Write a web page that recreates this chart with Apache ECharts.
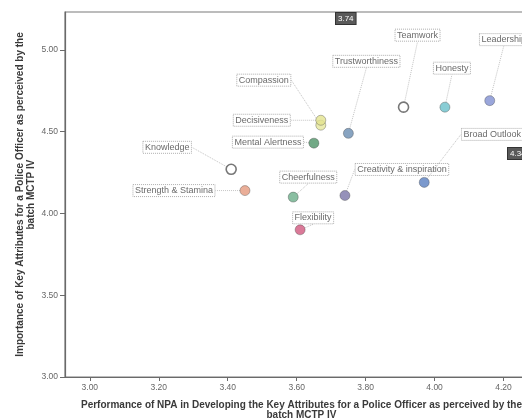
<!DOCTYPE html>
<html>
<head>
<meta charset="utf-8">
<script src="https://cdn.jsdelivr.net/npm/echarts@6/dist/echarts.min.js"></script>
<style>
  html, body { margin: 0; padding: 0; background: #ffffff; }
  #chart { width: 522px; height: 418px; }
</style>
</head>
<body>
<div id="chart"></div>
<script>
// Key attributes of a police officer: NPA performance (x) vs importance (y)
const attributes = [
  'Knowledge', 'Strength & Stamina', 'Compassion', 'Decisiveness',
  'Mental Alertness', 'Trustworthiness', 'Teamwork', 'Honesty',
  'Leadership', 'Broad Outlook', 'Cheerfulness', 'Creativity & inspiration',
  'Flexibility'
];
const performance = [3.41, 3.45, 3.67, 3.67, 3.65, 3.75, 3.91, 4.03, 4.16, 3.97, 3.59, 3.74, 3.61];
const importance  = [4.27, 4.14, 4.54, 4.57, 4.43, 4.49, 4.65, 4.65, 4.69, 4.19, 4.10, 4.11, 3.90];

const xTicks = [3.00, 3.20, 3.40, 3.60, 3.80, 4.00, 4.20];
const yTicks = [3.00, 3.50, 4.00, 4.50, 5.00];

// marker fills, one per attribute
const markerFills = [
  '#ffffff', '#e59a7e', '#e6e79c', '#e3e48e', '#4f9468', '#6a8db2', '#ffffff',
  '#6cc0ca', '#8190d2', '#5a7fc0', '#6cae8a', '#7a76a8', '#d1587e'
];
// label displacement from each marker (px)
const labelShift = [
  [-64, -22], [-71, 0], [-57, -45], [-59, 0], [-46, -1], [18, -72], [14, -72],
  [7, -39], [14, -61], [68, -48], [15, -20], [57, -26], [13, -12]
];

const points = attributes.map((name, i) => ({
  name: name,
  value: [performance[i], importance[i]],
  itemStyle: {
    color: markerFills[i],
    borderColor: markerFills[i] === '#ffffff' ? '#555555' : 'rgba(60,60,60,0.55)',
    borderWidth: markerFills[i] === '#ffffff' ? 1.6 : 0.8
  }
}));

const font = 'Liberation Sans, Arial, sans-serif';
const chart = echarts.init(document.getElementById('chart'), null, { renderer: 'canvas' });

chart.setOption({
  backgroundColor: '#ffffff',
  animation: false,
  grid: {
    left: 65, top: 12, width: 473, height: 365,
    outerBoundsMode: 'none',
    containLabel: false,
    show: true, borderColor: '#7a7a7a', borderWidth: 1.2, backgroundColor: '#ffffff'
  },
  xAxis: {
    type: 'value', min: 2.928, max: 4.30,
    name: 'Performance of NPA in Developing the Key Attributes for a Police Officer as perceived by the\nbatch MCTP IV',
    nameLocation: 'middle', nameGap: 23, nameMoveOverlap: false,
    nameTextStyle: { fontFamily: font, fontSize: 10, fontWeight: 'bold', color: '#3a3a3a', lineHeight: 10 },
    axisLine: { show: true, lineStyle: { color: '#6a6a6a', width: 1.2 } },
    axisTick: { show: true, length: 4, customValues: xTicks, lineStyle: { color: '#6a6a6a' } },
    axisLabel: {
      customValues: xTicks, margin: 6,
      formatter: v => v.toFixed(2),
      fontFamily: font, fontSize: 8.5, color: '#666666'
    },
    splitLine: { show: false }
  },
  yAxis: {
    type: 'value', min: 3.0, max: 5.232,
    name: 'Importance of Key Attributes for a Police Officer as perceived by the\nbatch MCTP IV',
    nameLocation: 'middle', nameGap: 28, nameMoveOverlap: false,
    nameTextStyle: { fontFamily: font, fontSize: 10, fontWeight: 'bold', color: '#3a3a3a', lineHeight: 11 },
    axisLine: { show: true, lineStyle: { color: '#6a6a6a', width: 1.2 } },
    axisTick: { show: true, length: 5, customValues: yTicks, lineStyle: { color: '#6a6a6a' } },
    axisLabel: {
      customValues: yTicks, margin: 7,
      formatter: v => v.toFixed(2),
      fontFamily: font, fontSize: 8.5, color: '#666666'
    },
    splitLine: { show: false }
  },
  series: [{
    type: 'scatter',
    symbol: 'circle',
    symbolSize: 10,
    data: points,
    label: {
      show: true,
      position: 'inside',
      formatter: '{b}',
      fontFamily: font,
      fontSize: 9,
      color: '#444444',
      borderType: 'dotted',
      borderColor: '#9a9a9a',
      borderWidth: 1,
      padding: [2, 2, 1, 2]
    },
    labelLine: {
      show: true,
      lineStyle: { color: '#c4c4c4', width: 1, type: 'dotted' }
    },
    labelLayout: params => ({
      dx: labelShift[params.dataIndex][0],
      dy: labelShift[params.dataIndex][1],
      hideOverlap: false
    }),
    emphasis: { disabled: true }
  }],
  graphic: [
    {
      type: 'text', left: 335, top: 12,
      style: {
        text: '3.74', fontFamily: font, fontSize: 8, fill: '#ffffff',
        backgroundColor: '#5a5a5a', borderColor: '#333', borderWidth: 1, padding: [2, 2, 1, 2]
      }
    },
    {
      type: 'text', left: 507, top: 147,
      style: {
        text: '4.34', fontFamily: font, fontSize: 8, fill: '#ffffff',
        backgroundColor: '#5a5a5a', borderColor: '#333', borderWidth: 1, padding: [2, 2, 1, 2]
      }
    }
  ]
});
</script>
</body>
</html>
